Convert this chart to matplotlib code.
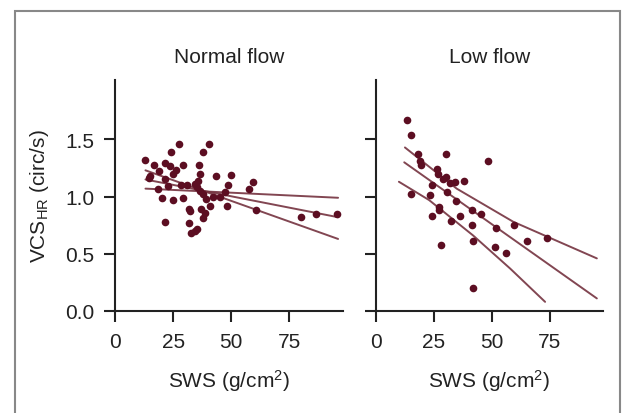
import numpy as np
import matplotlib
matplotlib.use('Agg')
import matplotlib.pyplot as plt
from matplotlib.patches import Rectangle

plt.rcParams['font.family'] = ['Liberation Sans Narrow', 'Liberation Sans', 'DejaVu Sans']
plt.rcParams['mathtext.default'] = 'regular'

# Normal flow data
normal_x = [12.6, 16.5, 15.1, 14.5, 27.3, 24.1, 40.2, 37.8, 21.6, 23.4, 29.2, 36.1, 26.0, 21.3,
            20.3, 24.9, 21.6, 22.7, 18.4, 29.2, 28.4, 30.9, 34.2, 35.0, 35.6, 36.4, 31.8, 32.3,
            31.8, 32.8, 34.2, 35.0, 37.0, 37.8, 38.5, 39.2, 40.9, 43.5, 50.0, 48.6, 47.1, 48.3,
            59.3, 57.6, 60.5, 80.2, 86.4, 95.7, 36.5, 38.0, 45.0, 42.0, 25.0, 19.0]
normal_y = [1.32, 1.28, 1.18, 1.16, 1.46, 1.39, 1.46, 1.39, 1.29, 1.27, 1.28, 1.28, 1.23, 1.15,
            0.99, 0.97, 0.78, 1.09, 1.07, 0.99, 1.10, 1.10, 1.11, 1.08, 1.14, 1.20, 0.89, 0.87,
            0.77, 0.68, 0.70, 0.72, 0.89, 0.81, 0.86, 0.98, 0.92, 1.18, 1.19, 1.10, 1.04, 0.92,
            1.13, 1.07, 0.88, 0.82, 0.85, 0.85, 1.05, 1.02, 1.00, 1.00, 1.20, 1.22]

# Low flow data
low_x = [13.4, 15.2, 18.4, 19.5, 19.0, 30.3, 48.3, 15.2, 26.3, 24.1, 23.4, 24.4, 27.3, 27.3,
         28.0, 29.2, 30.3, 30.9, 34.2, 38.2, 34.6, 32.5, 36.4, 41.4, 41.7, 45.4, 42.1, 42.1,
         51.9, 51.4, 56.0, 59.6, 65.4, 74.0, 27.0, 32.0]
low_y = [1.67, 1.54, 1.37, 1.28, 1.31, 1.37, 1.31, 1.02, 1.24, 1.10, 1.01, 0.83, 0.91, 0.88,
         0.58, 1.15, 1.17, 1.04, 1.13, 1.14, 0.96, 0.79, 0.83, 0.75, 0.88, 0.85, 0.61, 0.20,
         0.73, 0.56, 0.51, 0.75, 0.61, 0.64, 1.20, 1.12]

# fit lines
normal_lines = [
    ([13, 96], [1.23, 0.63]),
    ([13, 96], [1.15, 0.82]),
    ([13, 96], [1.07, 0.99]),
]
low_lines = [
    ([12.6, 34.9, 59.3, 95.3], [1.43, 1.07, 0.78, 0.46]),
    ([12.3, 95.3], [1.30, 0.11]),
    ([10.0, 23.0, 42.0, 58.0, 73.0], [1.13, 0.97, 0.66, 0.37, 0.08]),
]

titles = ['Normal flow', 'Low flow']
xticks = [0, 25, 50, 75]
yticks = [0.0, 0.5, 1.0, 1.5]

dot_color = '#5c0e22'
line_color = '#74323f'
ink = '#222222'
fs = 15

fig = plt.figure(figsize=(6.27, 4.14), dpi=100)
ax1 = fig.add_axes([0.1839, 0.2464, 0.3627, 0.558])
ax2 = fig.add_axes([0.5992, 0.2464, 0.3627, 0.558])

panels = [(ax1, normal_x, normal_y, normal_lines), (ax2, low_x, low_y, low_lines)]
for i, (ax, xs, ys, lines) in enumerate(panels):
    for lx, ly in lines:
        ax.plot(lx, ly, color=line_color, lw=1.4, solid_capstyle='round', alpha=0.9)
    ax.plot(xs, ys, 'o', color=dot_color, markersize=5.5, markeredgewidth=0)
    ax.set_xlim(0, 98)
    ax.set_ylim(0, 2.02)
    ax.set_xticks(xticks)
    ax.set_yticks(yticks)
    ax.spines['top'].set_visible(False)
    ax.spines['right'].set_visible(False)
    for s in ['left', 'bottom']:
        ax.spines[s].set_linewidth(1.5)
        ax.spines[s].set_color(ink)
    ax.tick_params(direction='out', length=8, width=1.5, color=ink,
                   labelsize=fs, pad=7, labelcolor=ink)
    ax.set_xlabel('SWS (g/cm$^2$)', fontsize=fs, labelpad=12, color=ink)
    ax.set_title(titles[i], fontsize=fs, pad=13, color=ink)
    if i == 0:
        ax.set_yticklabels(['0.0', '0.5', '1.0', '1.5'])
        ax.set_ylabel('VCS$_{HR}$ (circ/s)', fontsize=fs, labelpad=10, color=ink)
    else:
        ax.set_yticklabels([])

# outer frame (open at the bottom)
fig.patches.append(Rectangle((15 / 627, -0.1), 605 / 627, 1.1 - 12 / 414, transform=fig.transFigure,
                             fill=False, edgecolor='#888888', lw=1.5))

fig.savefig('out.png', dpi=100)
